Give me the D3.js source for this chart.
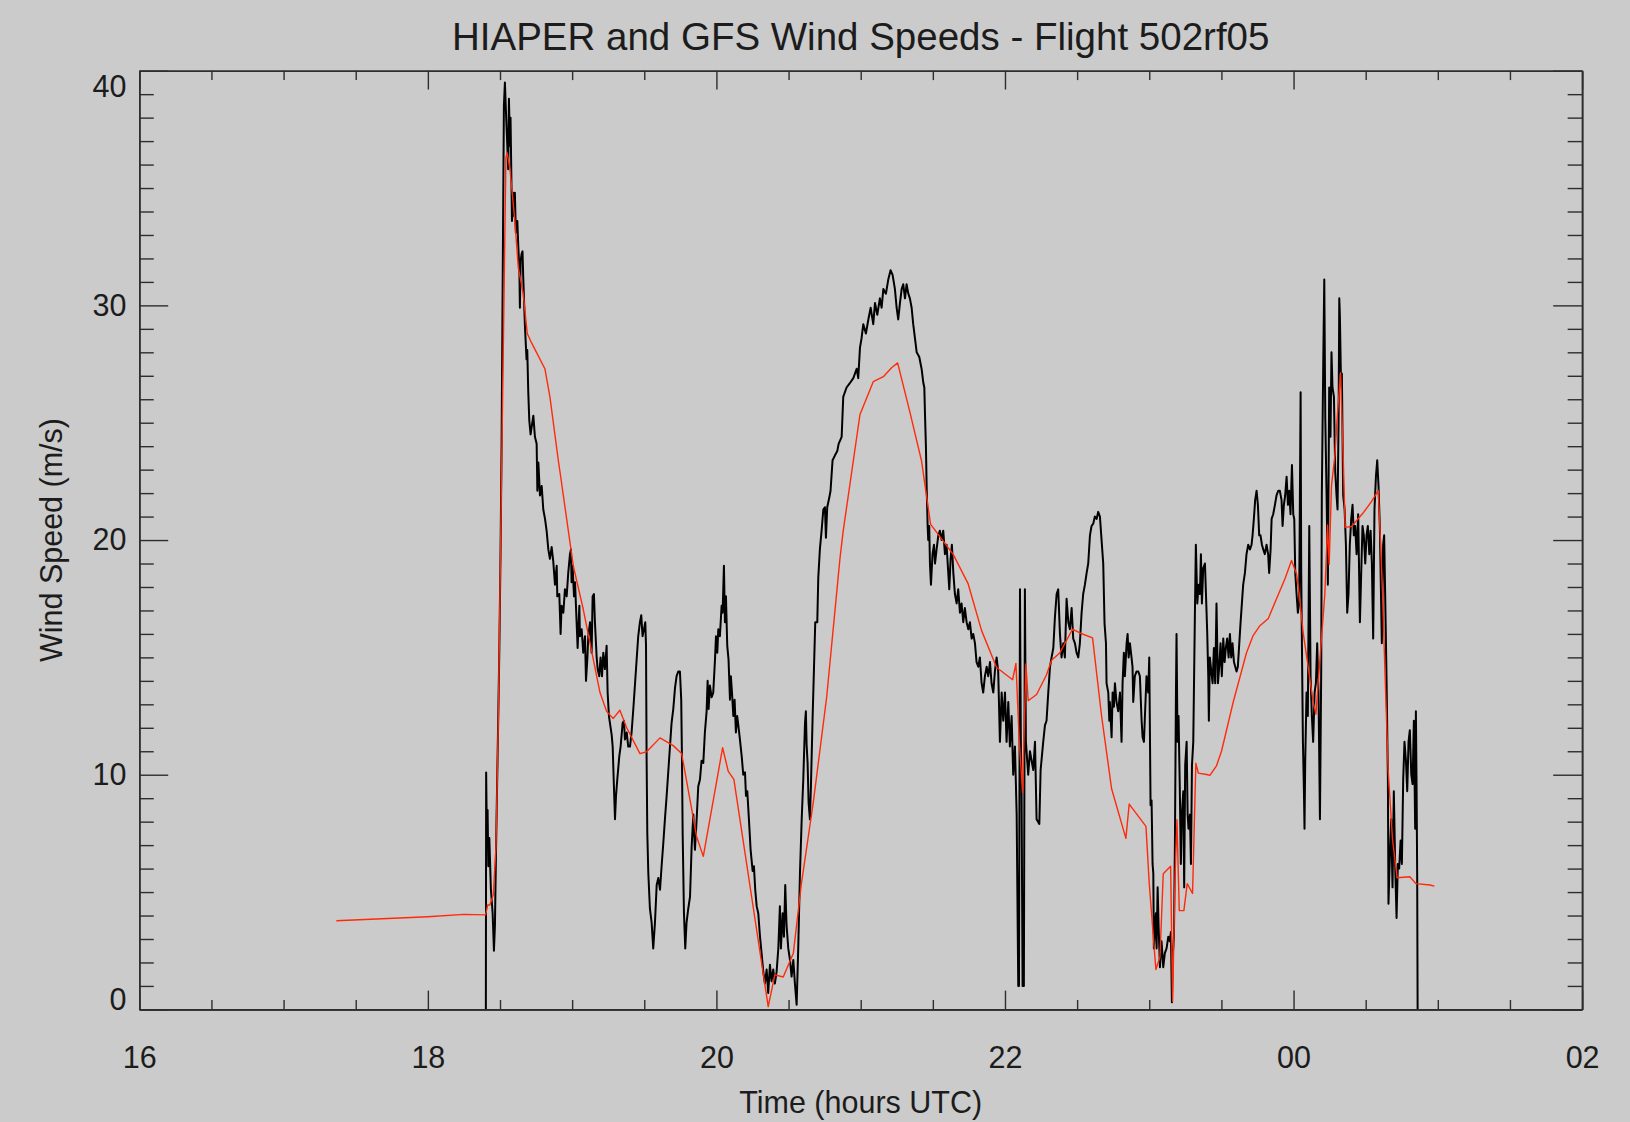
<!DOCTYPE html>
<html><head><meta charset="utf-8">
<script src="https://cdn.jsdelivr.net/npm/d3@7"></script>
<style>
html,body{margin:0;padding:0;background:#cbcbcb;}
svg{display:block;}
text{font-family:"Liberation Sans",Arial,Helvetica,sans-serif;fill:#1c1c1c;}
</style></head><body>
<svg id="chart" width="1630" height="1122"></svg>
<script>
const chartTitle = "HIAPER and GFS Wind Speeds - Flight 502rf05";
const xAxisTitle = "Time (hours UTC)";
const yAxisTitle = "Wind Speed (m/s)";
const xMajorTicks = [16, 18, 20, 22, 24, 26];
const xTickLabels = ["16", "18", "20", "22", "00", "02"];
const yMajorTicks = [0, 10, 20, 30, 40];
const yTickLabels = ["0", "10", "20", "30", "40"];

// GFS model wind speed [hours UTC, m/s]
const gfsSeries = [
[17.366,3.78],[18.0,3.95],[18.25,4.05],[18.40,4.03],[18.415,4.45],[18.43,4.45],[18.454,4.9],[18.472,6.9],
[18.488,12.2],[18.511,22.9],[18.541,36.3],[18.55,36.5],[18.569,35.8],[18.603,33.6],[18.627,31.6],[18.661,30.5],
[18.689,28.8],[18.719,28.4],[18.811,27.3],[18.846,26.1],[18.904,23.4],[18.916,22.9],[19.008,18.9],[19.077,17.05],
[19.193,13.5],[19.239,12.7],[19.285,12.4],[19.331,12.75],[19.378,12.0],[19.47,10.9],[19.516,10.98],[19.609,11.57],
[19.701,11.24],[19.759,10.9],[19.863,7.36],[19.909,6.52],[20.043,11.15],[20.082,10.14],[20.121,9.8],[20.359,0.12],
[20.405,1.47],[20.463,1.38],[20.533,2.39],[20.59,5.4],[20.671,8.8],[20.764,13.3],[20.856,19.2],[20.879,20.4],
[20.995,25.35],[21.087,26.75],[21.157,26.96],[21.214,27.34],[21.256,27.55],[21.341,25.45],[21.422,23.36],[21.484,20.68],
[21.642,19.38],[21.745,18.13],[21.838,16.14],[21.942,14.57],[22.053,14.05],[22.076,14.74],[22.099,11.43],[22.122,9.23],
[22.145,14.72],[22.161,13.15],[22.219,13.42],[22.288,14.26],[22.323,14.88],[22.381,15.2],[22.468,16.2],[22.519,16.04],
[22.607,15.83],[22.67,12.48],[22.739,9.4],[22.838,7.29],[22.861,8.75],[22.977,7.8],[23.0,5.36],[23.046,1.7],
[23.074,2.22],[23.097,5.78],[23.148,6.1],[23.162,0.34],[23.178,5.5],[23.192,8.08],[23.208,4.21],[23.24,4.21],
[23.263,5.36],[23.3,4.94],[23.323,10.49],[23.34,10.07],[23.397,10.01],[23.42,9.97],[23.466,10.38],[23.501,11.01],
[23.582,13.1],[23.674,15.2],[23.72,15.93],[23.767,16.35],[23.825,16.66],[23.882,17.5],[23.94,18.34],[23.986,19.13],
[24.021,18.55],[24.039,17.71],[24.067,16.03],[24.102,14.57],[24.136,13.1],[24.155,12.58],[24.171,13.94],[24.194,15.83],
[24.217,17.71],[24.236,20.64],[24.247,18.97],[24.263,22.31],[24.286,23.57],[24.303,25.24],[24.326,27.13],[24.344,23.57],
[24.358,20.54],[24.402,20.58],[24.483,21.16],[24.54,21.64],[24.587,22.11],[24.598,20.64],[24.617,17.71],[24.636,13.94],
[24.656,10.17],[24.686,7.24],[24.718,5.61],[24.806,5.65],[24.848,5.36],[24.945,5.30],[24.976,5.25]
];

// HIAPER measured wind speed [hours UTC, m/s]
const hiaperSeries = [
[18.402,0.0],[18.404,10.1],[18.409,7.4],[18.414,8.5],[18.419,6.1],[18.426,7.3],[18.437,5.1],[18.449,4.1],
[18.458,2.5],[18.465,3.6],[18.472,6.6],[18.48,9.6],[18.488,12.5],[18.495,15.2],[18.504,19.6],[18.511,24.1],
[18.518,30.5],[18.527,38.5],[18.534,39.5],[18.541,38.3],[18.55,36.9],[18.557,35.8],[18.562,38.8],[18.569,36.8],
[18.573,38.0],[18.578,35.8],[18.583,33.6],[18.592,34.8],[18.599,33.8],[18.603,34.8],[18.61,33.1],[18.62,33.6],
[18.627,32.5],[18.634,31.6],[18.638,29.9],[18.643,31.9],[18.65,32.2],[18.656,32.3],[18.661,31.2],[18.673,29.1],
[18.684,27.7],[18.689,28.1],[18.696,26.3],[18.703,25.1],[18.712,24.5],[18.731,25.3],[18.742,24.4],[18.754,24.1],
[18.759,22.1],[18.766,23.3],[18.777,21.9],[18.789,22.3],[18.8,21.3],[18.812,20.9],[18.823,20.4],[18.835,19.6],
[18.846,19.2],[18.858,19.7],[18.869,19.1],[18.881,18.1],[18.893,18.9],[18.897,17.6],[18.911,17.7],[18.92,16.0],
[18.927,17.2],[18.939,16.9],[18.95,17.9],[18.962,17.6],[18.973,18.6],[18.985,19.4],[18.992,19.6],[18.996,18.2],
[19.003,18.9],[19.013,17.6],[19.02,18.2],[19.031,16.5],[19.038,15.4],[19.05,17.2],[19.054,15.9],[19.066,16.2],
[19.077,15.2],[19.089,15.9],[19.096,14.0],[19.105,14.9],[19.112,15.9],[19.124,16.5],[19.135,15.2],[19.142,17.6],
[19.151,17.7],[19.158,16.5],[19.17,15.0],[19.177,14.5],[19.188,14.2],[19.197,15.0],[19.207,14.2],[19.216,15.2],
[19.227,14.5],[19.239,15.5],[19.246,13.5],[19.255,12.5],[19.267,12.0],[19.274,11.7],[19.281,11.2],[19.288,9.8],
[19.297,8.1],[19.304,9.1],[19.313,9.8],[19.327,10.8],[19.336,11.2],[19.35,12.2],[19.359,12.3],[19.366,11.5],
[19.378,11.8],[19.389,11.2],[19.401,11.2],[19.412,11.8],[19.424,12.8],[19.435,13.8],[19.447,14.9],[19.458,15.9],
[19.47,16.5],[19.479,16.8],[19.488,15.9],[19.498,16.2],[19.507,16.5],[19.512,15.5],[19.516,10.8],[19.521,7.5],
[19.528,5.8],[19.539,4.3],[19.551,3.7],[19.562,2.6],[19.574,3.7],[19.586,5.3],[19.597,5.6],[19.609,5.1],
[19.62,6.1],[19.632,7.1],[19.643,8.1],[19.655,9.1],[19.666,10.1],[19.678,11.2],[19.689,12.2],[19.701,12.8],
[19.713,13.7],[19.724,14.2],[19.736,14.4],[19.747,14.4],[19.756,13.2],[19.761,10.8],[19.766,7.5],[19.775,4.1],
[19.784,2.6],[19.793,3.7],[19.805,4.3],[19.817,4.8],[19.828,6.9],[19.84,8.3],[19.851,6.8],[19.863,8.1],
[19.874,9.5],[19.886,9.8],[19.897,10.6],[19.909,10.5],[19.92,11.8],[19.932,12.7],[19.939,14.0],[19.946,12.8],
[19.955,13.8],[19.967,13.3],[19.978,13.5],[19.99,14.9],[19.997,15.9],[20.006,15.2],[20.013,16.2],[20.024,15.9],
[20.036,17.2],[20.043,16.9],[20.052,18.9],[20.059,16.5],[20.066,17.6],[20.075,15.5],[20.084,14.9],[20.094,13.2],
[20.1,14.2],[20.108,13.5],[20.117,12.5],[20.126,13.2],[20.135,11.8],[20.144,12.5],[20.154,12.0],[20.163,11.5],
[20.175,10.8],[20.186,10.0],[20.198,10.1],[20.205,9.1],[20.214,9.3],[20.228,7.8],[20.237,6.8],[20.251,5.9],
[20.26,6.1],[20.269,5.1],[20.279,4.4],[20.29,4.1],[20.302,3.1],[20.313,2.4],[20.325,1.6],[20.336,1.1],
[20.348,1.7],[20.359,0.7],[20.371,1.9],[20.382,1.2],[20.394,1.7],[20.405,1.1],[20.417,1.6],[20.429,2.6],
[20.44,4.4],[20.447,2.6],[20.459,4.1],[20.468,3.1],[20.477,5.3],[20.486,3.6],[20.498,2.6],[20.51,2.1],
[20.521,1.4],[20.533,2.1],[20.544,1.1],[20.556,0.2],[20.567,2.6],[20.579,5.8],[20.591,8.1],[20.602,9.8],
[20.614,12.2],[20.62,12.7],[20.625,11.3],[20.632,10.5],[20.639,8.8],[20.648,8.1],[20.655,9.5],[20.667,12.5],
[20.676,14.5],[20.685,16.5],[20.699,16.5],[20.706,18.4],[20.717,19.6],[20.729,20.4],[20.741,21.3],[20.752,21.4],
[20.759,20.1],[20.768,21.4],[20.782,21.8],[20.791,22.1],[20.805,23.4],[20.821,23.6],[20.838,23.8],[20.847,24.1],
[20.868,24.4],[20.879,26.1],[20.902,26.5],[20.926,26.7],[20.949,26.9],[20.972,27.3],[20.983,26.9],[20.995,28.2],
[21.006,28.6],[21.018,29.2],[21.036,28.8],[21.053,29.4],[21.069,29.9],[21.087,29.2],[21.099,30.1],[21.115,29.6],
[21.133,30.3],[21.145,29.9],[21.157,30.7],[21.175,30.5],[21.191,31.1],[21.207,31.5],[21.221,31.3],[21.237,30.7],
[21.249,29.9],[21.26,29.4],[21.272,30.1],[21.284,30.7],[21.295,30.9],[21.307,30.3],[21.318,30.9],[21.33,30.5],
[21.341,30.3],[21.353,29.9],[21.364,29.2],[21.376,28.6],[21.388,28.0],[21.406,27.8],[21.422,27.3],[21.434,26.7],
[21.441,26.5],[21.445,25.5],[21.452,24.0],[21.457,22.3],[21.464,20.6],[21.468,20.0],[21.475,20.6],[21.48,19.0],
[21.487,18.1],[21.491,18.6],[21.498,19.4],[21.508,19.8],[21.515,19.0],[21.526,19.6],[21.538,20.2],[21.549,20.4],
[21.561,20.0],[21.572,20.4],[21.584,19.4],[21.595,19.8],[21.607,18.6],[21.614,17.9],[21.623,19.2],[21.632,19.8],
[21.642,18.6],[21.653,17.7],[21.665,17.3],[21.676,17.9],[21.688,16.9],[21.699,17.3],[21.711,16.5],[21.722,17.1],
[21.734,16.5],[21.746,16.2],[21.757,16.5],[21.769,15.8],[21.78,16.0],[21.792,15.6],[21.803,14.8],[21.815,14.6],
[21.826,15.0],[21.838,13.9],[21.849,13.5],[21.861,14.2],[21.873,14.6],[21.884,14.2],[21.896,14.8],[21.907,13.9],
[21.919,13.5],[21.93,14.4],[21.942,15.0],[21.953,14.4],[21.965,11.4],[21.977,13.5],[21.988,12.3],[22.0,13.5],
[22.011,11.4],[22.023,13.1],[22.034,11.2],[22.046,12.5],[22.057,10.0],[22.069,11.2],[22.081,8.3],[22.092,1.0],
[22.097,1.0],[22.104,17.9],[22.11,11.4],[22.115,9.3],[22.122,1.0],[22.131,1.0],[22.138,17.9],[22.145,11.4],
[22.161,10.0],[22.173,11.0],[22.196,10.2],[22.208,11.4],[22.219,8.1],[22.238,7.9],[22.247,10.2],[22.265,11.4],
[22.277,12.1],[22.288,12.3],[22.3,13.5],[22.312,14.6],[22.323,15.0],[22.335,15.4],[22.346,16.7],[22.358,17.7],
[22.369,17.9],[22.381,16.0],[22.392,15.0],[22.404,15.6],[22.415,15.0],[22.427,17.5],[22.439,16.5],[22.45,16.2],
[22.462,17.1],[22.473,15.8],[22.485,15.6],[22.496,15.2],[22.508,15.0],[22.519,15.6],[22.531,16.9],[22.542,17.7],
[22.554,18.1],[22.566,18.6],[22.577,19.0],[22.589,20.2],[22.6,20.6],[22.612,20.7],[22.623,21.0],[22.635,20.9],
[22.646,21.2],[22.658,21.0],[22.681,19.0],[22.69,16.45],[22.7,15.6],[22.704,13.9],[22.716,13.5],[22.723,12.3],
[22.727,13.1],[22.739,11.6],[22.746,13.5],[22.755,12.9],[22.762,13.9],[22.773,13.1],[22.785,12.7],[22.797,13.5],
[22.808,11.4],[22.815,13.9],[22.824,15.2],[22.831,14.2],[22.843,15.6],[22.85,16.0],[22.857,15.0],[22.866,15.6],
[22.877,15.0],[22.884,14.6],[22.889,13.1],[22.9,14.2],[22.912,14.4],[22.924,14.4],[22.935,14.2],[22.947,12.3],
[22.954,11.6],[22.963,11.4],[22.97,12.5],[22.981,14.2],[22.993,13.5],[23.0,15.0],[23.009,8.7],[23.016,8.9],
[23.023,6.2],[23.028,5.8],[23.032,2.6],[23.039,3.5],[23.046,4.1],[23.051,2.6],[23.058,5.2],[23.065,3.5],
[23.074,1.8],[23.085,2.9],[23.097,1.8],[23.108,2.4],[23.12,2.6],[23.132,3.1],[23.143,2.9],[23.15,3.3],
[23.157,0.3],[23.162,2.2],[23.171,3.1],[23.178,7.2],[23.185,13.5],[23.189,16.0],[23.196,11.4],[23.203,12.5],
[23.212,9.3],[23.219,6.2],[23.226,8.3],[23.236,9.3],[23.242,5.2],[23.249,10.4],[23.259,11.4],[23.266,8.3],
[23.272,7.7],[23.282,8.3],[23.289,6.2],[23.296,10.4],[23.305,11.4],[23.316,16.7],[23.323,19.8],[23.333,17.3],
[23.342,18.1],[23.351,17.7],[23.358,19.4],[23.365,17.3],[23.374,18.8],[23.386,19.0],[23.393,17.7],[23.402,16.0],
[23.409,14.2],[23.413,12.3],[23.42,15.0],[23.43,14.4],[23.439,13.9],[23.448,15.4],[23.457,13.9],[23.466,17.3],
[23.476,13.9],[23.485,14.6],[23.494,15.6],[23.503,14.2],[23.513,15.8],[23.522,14.8],[23.531,15.4],[23.54,15.8],
[23.55,15.0],[23.559,16.0],[23.568,15.0],[23.577,15.6],[23.587,14.8],[23.596,14.6],[23.605,14.4],[23.614,14.6],
[23.624,15.6],[23.633,16.5],[23.642,17.3],[23.651,18.1],[23.663,18.6],[23.674,19.4],[23.686,19.8],[23.698,19.6],
[23.709,19.8],[23.716,20.2],[23.725,20.9],[23.734,21.7],[23.744,22.1],[23.753,21.5],[23.762,20.2],[23.771,20.2],
[23.781,19.8],[23.79,19.6],[23.801,19.4],[23.813,19.8],[23.824,19.4],[23.831,18.6],[23.841,19.6],[23.848,20.9],
[23.859,21.1],[23.871,21.5],[23.882,21.9],[23.894,22.1],[23.905,22.1],[23.917,21.7],[23.924,20.6],[23.933,21.5],
[23.942,21.9],[23.952,22.7],[23.961,21.5],[23.97,22.1],[23.979,21.1],[23.989,23.2],[23.998,21.1],[24.005,20.9],
[24.012,18.6],[24.021,17.7],[24.03,16.9],[24.039,17.3],[24.049,26.3],[24.053,18.8],[24.058,15.6],[24.065,11.4],
[24.072,9.3],[24.076,7.7],[24.081,10.6],[24.09,13.5],[24.099,12.5],[24.109,20.6],[24.118,14.2],[24.127,12.5],
[24.136,11.4],[24.146,13.5],[24.155,13.9],[24.164,15.6],[24.173,13.5],[24.183,8.1],[24.192,14.6],[24.196,21.9],
[24.206,27.6],[24.213,31.1],[24.22,25.2],[24.229,21.9],[24.238,18.1],[24.247,26.5],[24.256,24.4],[24.263,28.0],
[24.27,26.5],[24.28,26.1],[24.289,22.9],[24.298,21.9],[24.305,21.3],[24.312,25.0],[24.317,30.3],[24.321,29.6],
[24.328,27.1],[24.335,27.1],[24.344,21.9],[24.354,21.3],[24.363,19.8],[24.372,16.9],[24.381,17.7],[24.39,19.8],
[24.4,20.9],[24.409,21.5],[24.418,20.2],[24.427,20.6],[24.437,19.4],[24.448,21.1],[24.46,16.5],[24.469,18.6],
[24.478,20.6],[24.487,20.2],[24.497,19.0],[24.506,20.2],[24.515,20.6],[24.525,19.4],[24.534,20.4],[24.543,19.0],
[24.552,15.8],[24.561,21.3],[24.571,22.7],[24.58,23.4],[24.589,22.3],[24.598,20.6],[24.605,18.1],[24.612,15.6],
[24.621,19.8],[24.628,20.2],[24.635,17.7],[24.645,13.9],[24.654,9.8],[24.658,4.5],[24.668,6.6],[24.677,8.1],
[24.686,5.2],[24.695,9.3],[24.705,6.0],[24.714,3.9],[24.723,6.2],[24.732,6.0],[24.742,7.2],[24.751,6.2],
[24.76,9.8],[24.769,11.4],[24.779,10.6],[24.788,9.3],[24.797,11.4],[24.806,11.9],[24.816,10.0],[24.825,9.6],
[24.834,12.3],[24.843,7.7],[24.848,12.7],[24.853,9.3],[24.857,5.6],[24.86,0.0]
];

const W = 1630, H = 1122;
const plot = {left: 139.3, right: 1582.1, top: 70.7, bottom: 1009.4};
const x = d3.scaleLinear().domain([16, 26]).range([plot.left, plot.right]);
const y = d3.scaleLinear().domain([0, 40]).range([plot.bottom, plot.top]);

const svg = d3.select("#chart");
svg.append("rect").attr("width", W).attr("height", H).attr("fill", "#cbcbcb");

const xMinor = d3.range(16, 26.001, 0.5).filter(v => !xMajorTicks.includes(v));
const yMinor = d3.range(0, 40.001, 1).filter(v => !yMajorTicks.includes(v));
const xLen = 18.8, yLen = 28.9;
const axisColor = "#2e2e2e";

function addAxis(gen, tx, ty) {
  const g = svg.append("g").attr("transform", `translate(${tx},${ty})`)
    .attr("color", axisColor)
    .call(gen);
  g.attr("font-family", '"Liberation Sans", Arial, Helvetica, sans-serif')
   .attr("font-size", 30.5);
  g.selectAll(".tick line").attr("stroke-width", 1.4);
  g.select(".domain").attr("stroke-width", 1.6);
  g.selectAll("text").attr("fill", "#1c1c1c");
  return g;
}

// data lines (clipped)
svg.append("clipPath").attr("id", "clip").append("rect")
  .attr("x", plot.left).attr("y", plot.top - 2)
  .attr("width", plot.right - plot.left).attr("height", plot.bottom - plot.top + 2);

const line = d3.line().x(d => x(d[0])).y(d => y(d[1]));
const dataG = svg.append("g").attr("clip-path", "url(#clip)");
dataG.append("path").datum(hiaperSeries).attr("d", line)
  .attr("fill", "none").attr("stroke", "#000").attr("stroke-width", 2.0)
  .attr("stroke-linejoin", "round");
dataG.append("path").datum(gfsSeries).attr("d", line)
  .attr("fill", "none").attr("stroke", "#ff2a0a").attr("stroke-width", 1.4)
  .attr("stroke-linejoin", "round");

// bottom
addAxis(d3.axisBottom(x).tickValues(xMinor).tickSize(-xLen / 2).tickSizeOuter(0).tickFormat(""), 0, plot.bottom);
addAxis(d3.axisBottom(x).tickValues(xMajorTicks).tickSize(-xLen).tickSizeOuter(0).tickPadding(36.5)
  .tickFormat((d, i) => xTickLabels[i]), 0, plot.bottom);
// top
addAxis(d3.axisTop(x).tickValues(xMinor).tickSize(-xLen / 2).tickSizeOuter(0).tickFormat(""), 0, plot.top);
addAxis(d3.axisTop(x).tickValues(xMajorTicks).tickSize(-xLen).tickSizeOuter(0).tickFormat(""), 0, plot.top);
// left
addAxis(d3.axisLeft(y).tickValues(yMinor).tickSize(-yLen / 2).tickSizeOuter(0).tickFormat(""), plot.left, 0);
const leftMajor = addAxis(d3.axisLeft(y).tickValues(yMajorTicks).tickSize(-yLen).tickSizeOuter(0).tickPadding(12.9)
  .tickFormat((d, i) => yTickLabels[i]), plot.left, 0);
leftMajor.selectAll(".tick text").attr("y", d => d === 0 ? -9.4 : (d === 40 ? 16.5 : 0));
// right
addAxis(d3.axisRight(y).tickValues(yMinor).tickSize(-yLen / 2).tickSizeOuter(0).tickFormat(""), plot.right, 0);
addAxis(d3.axisRight(y).tickValues(yMajorTicks).tickSize(-yLen).tickSizeOuter(0).tickFormat(""), plot.right, 0);

// titles
svg.append("text").attr("x", (plot.left + plot.right) / 2).attr("y", 49.5)
  .attr("text-anchor", "middle").attr("font-size", 38.5).text(chartTitle);
svg.append("text").attr("x", (plot.left + plot.right) / 2).attr("y", 1112.5)
  .attr("text-anchor", "middle").attr("font-size", 30.5).text(xAxisTitle);
svg.append("text").attr("transform", `translate(61.5,${(plot.top + plot.bottom) / 2}) rotate(-90)`)
  .attr("text-anchor", "middle").attr("font-size", 30.5).text(yAxisTitle);
</script>
</body></html>
